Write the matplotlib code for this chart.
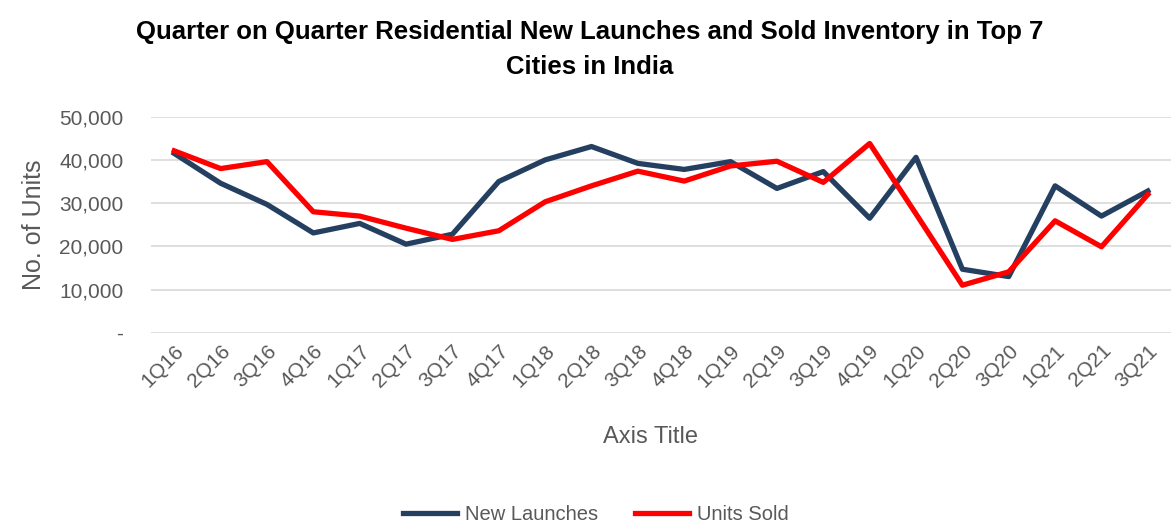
import matplotlib
matplotlib.use('Agg')
from matplotlib import pyplot as plt
from matplotlib.ticker import FuncFormatter

quarters = ["1Q16", "2Q16", "3Q16", "4Q16", "1Q17", "2Q17", "3Q17", "4Q17",
            "1Q18", "2Q18", "3Q18", "4Q18", "1Q19", "2Q19", "3Q19", "4Q19",
            "1Q20", "2Q20", "3Q20", "1Q21", "2Q21", "3Q21"]
new_launches = [41500, 34600, 29700, 23100, 25300, 20500, 22800, 35000,
                40000, 43100, 39200, 37800, 39600, 33400, 37300, 26500,
                40600, 14700, 13000, 34000, 27000, 32800]
units_sold = [42100, 38000, 39600, 28000, 27000, 24200, 21600, 23600,
              30300, 34000, 37400, 35100, 38600, 39700, 34800, 43800,
              27500, 11000, 14100, 25900, 19900, 32000]

FONT = ['Liberation Sans Narrow', 'Liberation Sans', 'DejaVu Sans']
plt.rcParams['font.family'] = FONT
GREY = '#595959'

fig = plt.figure(figsize=(11.71, 5.22), dpi=100)
ax = fig.add_axes([0.129, 0.3626, 0.871, 0.4138])

x = range(len(quarters))
ax.plot(x, new_launches, color='#243f60', lw=3.8, label='New Launches', solid_joinstyle='round')
ax.plot(x, units_sold, color='#ff0000', lw=3.8, label='Units Sold', solid_joinstyle='round')

ax.set_xlim(-0.5, len(quarters) - 0.5)
ax.set_ylim(0, 50000)
ax.set_yticks(range(0, 50001, 10000))
ax.yaxis.set_major_formatter(FuncFormatter(lambda v, p: '-' if v == 0 else f'{int(v):,}'))
ax.set_xticks(list(x))
ax.set_xticklabels(quarters, rotation=45, ha='right', rotation_mode='anchor')

ax.grid(axis='y', color='#d9d9d9', lw=1.2)
ax.set_axisbelow(True)
for s in ax.spines.values():
    s.set_visible(False)
ax.tick_params(length=0, labelsize=15, colors=GREY)
ax.tick_params(axis='y', pad=20)
ax.tick_params(axis='x', pad=6)

ax.set_ylabel('No. of Units', fontsize=18, color=GREY, labelpad=14)
ax.yaxis.set_label_coords(-0.103, 0.5)
ax.set_xlabel('Axis Title', fontsize=17, color=GREY)
ax.xaxis.set_label_coords(0.49, -0.43)

fig.suptitle('Quarter on Quarter Residential New Launches and Sold Inventory in Top 7\nCities in India',
             x=0.504, y=0.962, fontsize=18.5, fontweight='bold', linespacing=1.6)

fig.legend(loc='lower center', bbox_to_anchor=(0.509, -0.038), ncol=2, frameon=False,
           fontsize=14.5, labelcolor=GREY, handlelength=2.7, handletextpad=0.4,
           columnspacing=1.8)

fig.savefig('out.png', dpi=100)
plt.close()
